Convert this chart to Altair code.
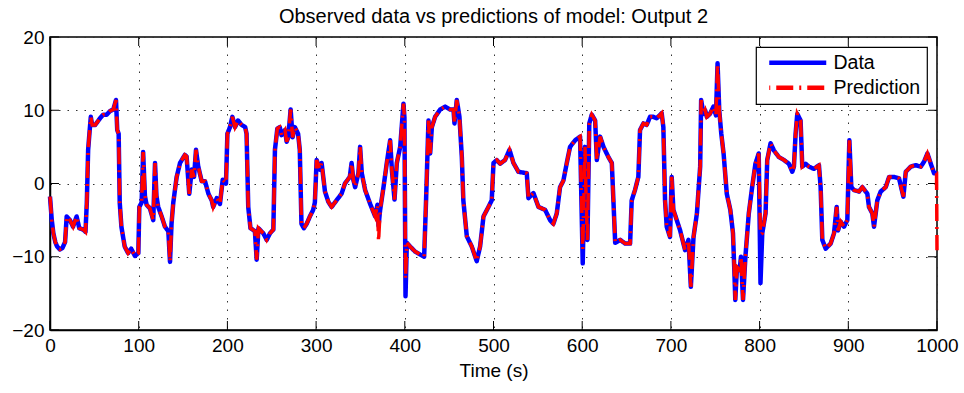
import altair as alt
import pandas as pd

FONT = "Liberation Sans"
TITLE = "Observed data vs predictions of model: Output 2"
X_TITLE = "Time (s)"
X_TICKS = list(range(0, 1001, 100))
Y_TICKS = [-20, -10, 0, 10, 20]
SERIES = ["Data", "Prediction"]
COLORS = ["#0000ff", "#ff0000"]

TIME = [
    0, 2, 3.8, 6, 8, 11, 14, 17, 18.8, 22.5, 26, 30, 33, 37.6, 40, 41.5, 43, 44.5, 46, 47.5,
    51, 56.4, 60, 63.9, 67.7, 71.4, 74.4, 75.8, 77.4, 78.6, 80.5, 84.2, 88, 91.5, 95.8, 99.6,
    100.7, 103.3, 105, 107, 108.9, 112.7, 116.4, 118.4, 120, 122, 125.9, 129.6, 133.4, 135.3,
    137, 139, 142.8, 146.6, 152, 154, 157, 159.8, 162.4, 164.6, 167, 171, 174.8, 178.6, 182.3,
    184, 188, 191.6, 194.7, 198.4, 200, 202.9, 205.6, 208.6, 212, 216, 220, 221.6, 223.5, 226,
    231, 233, 235, 240.5, 244.3, 248, 251.8, 253.6, 256.3, 259, 261, 264.9, 266.8, 268.6, 271.3,
    273.5, 276, 279.7, 281.6, 283.5, 286.2, 289.4, 293, 296.7, 298.6, 300.6, 304.3, 306.2, 310,
    313.8, 317.5, 323, 328.7, 332.5, 338, 340, 342, 344, 347.7, 349.6, 351.5, 355.3, 361, 366.6,
    369.2, 370.4, 372.2, 376, 379.7, 383.5, 385.4, 388.4, 391, 394.8, 398.5, 399.6, 400.8, 402.3,
    406, 411.7, 417.3, 421.8, 424, 426.7, 428.6, 430.5, 434.2, 439.9, 445.5, 451.1, 454.9, 456,
    458.6, 461.6, 464.3, 466, 469.9, 475.5, 481.1, 484.9, 488.7, 494.3, 498, 500, 503.7, 507.5,
    513, 518, 522.5, 528.1, 537.5, 539.4, 545, 550.7, 558.2, 563.8, 567.5, 571.3, 575, 578.8,
    582.6, 586.3, 592, 597.6, 600.6, 603.2, 604.4, 605.9, 608, 610.8, 614.6, 616.5, 620.2, 624,
    629.6, 633.4, 637.2, 642.8, 648.5, 654, 655.8, 659.5, 663.3, 665.2, 669, 672.7, 676.5, 680.2,
    684, 689.6, 691.5, 693.4, 695.3, 699, 700.9, 702.8, 706.6, 710.4, 716, 719.8, 722.5, 725.5,
    729.3, 733, 734.1, 736.7, 738.6, 740.5, 744, 748, 750.8, 752.6, 754.5, 756.8, 759.4, 763,
    767, 770, 771.5, 772.6, 774.5, 777.5, 779, 781.3, 784, 787.8, 791.6, 795.3, 799, 801, 803,
    806.7, 808.6, 812.4, 816.2, 821.8, 827.5, 833, 836.8, 838.7, 840.6, 842.5, 846.2, 848.1,
    851.9, 855.6, 861.3, 866.9, 868.8, 870.7, 874.5, 880.1, 883.9, 886.9, 888.4, 891.4, 895.2,
    898.9, 901.2, 903.4, 906.4, 912.1, 915.8, 921.5, 923.3, 927.1, 929, 932.7, 936.5, 942.2,
    946, 951.6, 957.2, 962.1, 964.8, 970.4, 976, 981.7, 985.5, 989.2, 993, 996.7, 999.5, 1000,
]

DATA = [
    -1.8, -5.0, -6.8, -8.0, -8.6, -9.0, -8.8, -8.0, -4.5, -5.0, -5.9, -4.5, -6.1, -6.3, -6.6, -2.6, 4.6, 6.9, 9.1, 8.0,
    8.0, 8.9, 9.4, 9.4, 9.9, 10.1, 11.4, 7.3, 6.8, -2.6, -5.9, -8.6, -9.5, -8.9, -9.9, -9.5,
    -3.2, -2.6, 4.3, -1.7, -2.9, -3.4, -5.0, 2.8, -1.7, -3.2, -4.5, -5.9, -6.5, -10.7,
    -5.5, -2.6, 0.9, 2.8, 3.9, 3.7, -1.4, 1.9, 0.9, 4.6, 2.4, 0.3, 0.3, -1.4, -2.3,
    -3.2, -2.0, -2.8, 0.5, 0.0, 6.8, 7.7, 9.1, 7.7, 8.6, 8.0, 7.7, 6.8, -3.2, -6.1,
    -6.5, -10.4, -6.1, -6.8, -7.7, -6.8, -6.3, 4.6, 7.5, 7.7, 6.6, 7.3, 5.7, 6.3, 10.1,
    6.3, 7.7, 6.8, 4.6, -5.5, -6.1, -5.5, -4.5, -3.6, -2.6, 3.2, 1.9, 2.8, -1.1,
    -2.5, -3.2, -2.3, -1.4, 0.0, 0.9, 2.8, 0.5, -0.5, 1.4, 5.0, 1.4, -0.9, -2.8, -4.5,
    -2.9, -5.8, -3.6, -0.5, 2.8, 5.9, 1.9, -2.2, 2.8, 5.0, 10.9, 9.0, -15.4, -8.1,
    -8.6, -9.3, -9.7, -10.0, -2.2, 8.6, 4.1, 7.7, 9.1, 10.1, 10.5, 10.1, 10.1, 8.2,
    11.4, 9.1, 3.6, -2.3, -7.2, -8.6, -10.6, -8.6, -4.5, -3.2, -2.3, 2.8, 3.2, 2.7,
    3.2, 4.6, 2.8, 1.6, 1.4, -2.0, -1.3, -3.2, -3.6, -5.0, -5.5, -4.1, -0.5, 0.4,
    2.8, 5.0, 5.9, 6.4, -10.9, 5.0, -2.3, -7.7, 8.2, 9.4, 8.6, 3.2, 6.4, 5.0,
    3.6, 2.8, -8.1, -7.7, -8.2, -8.2, -2.3, -0.9, 0.9, 7.3, 8.2, 8.0, 9.1, 9.1,
    8.9, 9.6, 7.7, -2.3, -5.9, -7.3, 0.9, -3.6, -5.0, -6.4, -9.1, -7.7, -14.1, -7.3,
    -4.1, 2.3, 11.4, 9.5, 10.0, 9.1, 9.5, 10.5, 9.3, 16.4, 10.0, 6.8, 4.1, -1.4,
    -3.6, -6.8, -11.8, -15.9, -11.4, -11.8, -10.0, -15.9, -10.0, -4.1, -0.5, 2.7, 4.1, -13.6, -6.8,
    -4.1, 3.2, 5.5, 4.5, 3.6, 3.2, 2.7, 1.6, 2.3, 6.8, 9.5, 8.6, 2.3,
    2.7, 2.3, 2.0, 2.5, -0.5, -7.7, -8.9, -8.2, -6.8, -3.2, -6.4, -5.2, -5.9,
    -5.0, 5.9, -0.5, -0.9, -1.1, -0.5, -1.4, -3.2, -4.1, -5.9, -2.3, -1.1, -0.5,
    0.9, 0.9, 0.7, -1.8, 1.6, 2.3, 2.5, 2.3, 3.0, 4.1, 2.7, 1.4, 1.4, 1.4,
]

# Where the red prediction visibly departs from the blue data
PRED_OVERRIDES = {370.4: -7.9, 400.8: -13.0, 600.6: -9.0, 801: -7.0, 1000: -9.1}
PRED = [PRED_OVERRIDES.get(t, v) for t, v in zip(TIME, DATA)]

df = pd.concat([
    pd.DataFrame({"t": TIME, "v": DATA, "series": SERIES[0]}),
    pd.DataFrame({"t": TIME, "v": PRED, "series": SERIES[1]}),
], ignore_index=True)

W, H = 887, 293
TICK = 9

xscale = alt.Scale(domain=[0, 1000], nice=False, zero=False)
yscale = alt.Scale(domain=[-20, 20], nice=False, zero=False)

xaxis = alt.Axis(values=X_TICKS, title=X_TITLE, labelPadding=6, titlePadding=6,
                 format="d", labelFlush=False)
yaxis = alt.Axis(values=Y_TICKS, title=None, labelPadding=6, format="d")

legend = alt.Legend(title=None)
color = alt.Color("series:N", scale=alt.Scale(domain=SERIES, range=COLORS), legend=legend)
dash = alt.StrokeDash("series:N",
                      scale=alt.Scale(domain=SERIES, range=[[1, 0], [17, 6, 2, 6]]),
                      legend=legend)

X = alt.X("t:Q", scale=xscale, axis=xaxis)
Y = alt.Y("v:Q", scale=yscale, axis=yaxis)

base = alt.Chart(df).encode(x=X, y=Y, color=color, strokeDash=dash)
data_line = base.transform_filter(alt.datum.series == SERIES[0]).mark_line(
    strokeWidth=4.5, strokeJoin="round")
pred_line = base.transform_filter(alt.datum.series == SERIES[1]).mark_line(
    strokeWidth=3.5, strokeCap="butt")

# inward tick marks on all four sides (MATLAB box style)
xt = pd.DataFrame({"t": X_TICKS})
yt = pd.DataFrame({"v": Y_TICKS})
bottom_ticks = alt.Chart(xt).mark_rule(color="black", strokeWidth=1).encode(
    x=X, y=alt.value(H), y2=alt.value(H - TICK))
top_ticks = alt.Chart(xt).mark_rule(color="black", strokeWidth=1).encode(
    x=X, y=alt.value(0), y2=alt.value(TICK))
left_ticks = alt.Chart(yt).mark_rule(color="black", strokeWidth=1).encode(
    y=Y, x=alt.value(0), x2=alt.value(TICK))
right_ticks = alt.Chart(yt).mark_rule(color="black", strokeWidth=1).encode(
    y=Y, x=alt.value(W), x2=alt.value(W - TICK))

chart = alt.layer(
    bottom_ticks, top_ticks, left_ticks, right_ticks, data_line, pred_line
).properties(
    width=W, height=H,
    title=alt.TitleParams(TITLE, font=FONT, fontSize=20, fontWeight="normal",
                          color="black", offset=1, anchor="middle", frame="group"),
    autosize=alt.AutoSizeParams(type="none"),
    padding={"left": 50, "top": 37, "right": 27, "bottom": 63},
    background="white",
).configure_axis(
    labelFont=FONT, labelFontSize=19, labelColor="black",
    titleFont=FONT, titleFontSize=19, titleFontWeight="normal", titleColor="black",
    domainColor="black", domainWidth=1.5, ticks=False,
    grid=True, gridColor="#333333", gridDash=[1.5, 7], gridWidth=1, gridOpacity=1,
).configure_view(
    stroke="black", strokeWidth=1.5,
).configure_legend(
    orient="top-right", offset=10, fillColor="white", strokeColor="black", strokeWidth=1.2,
    padding=6, symbolType="M-6,0H6", symbolSize=90.25, symbolStrokeWidth=4.5,
    symbolDashOffset=24, symbolOffset=26,
    labelFont=FONT, labelFontSize=19.5, labelColor="black", labelOffset=26, rowPadding=4,
)

chart.save("out.html", embed_options={"renderer": "svg", "actions": False})
